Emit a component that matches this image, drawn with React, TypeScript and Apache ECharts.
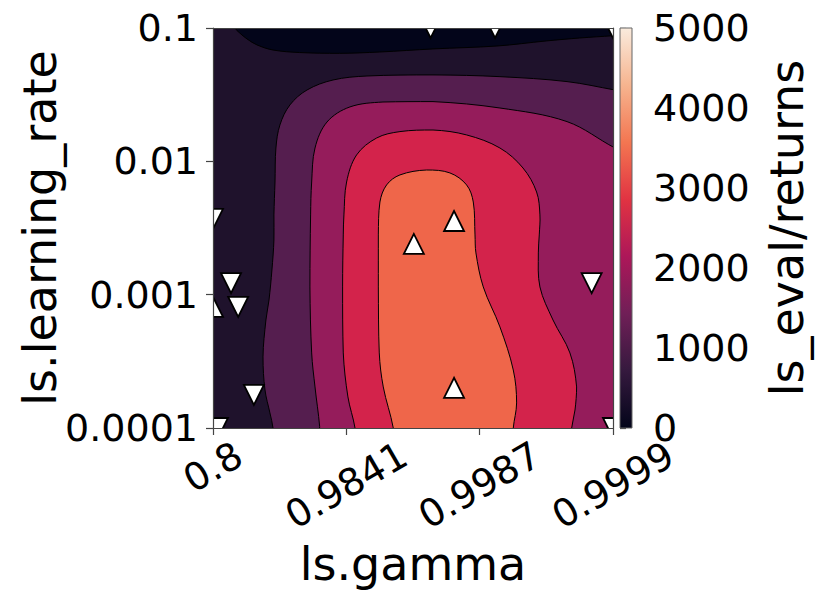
import React, { useEffect, useRef } from 'react';
import * as echarts from 'echarts';

// ---------- data ----------
const gammaTicks = ['0.8', '0.9841', '0.9987', '0.9999'];
const lrTicks = ['0.0001', '0.001', '0.01', '0.1'];
const returnTicks = [0, 1000, 2000, 3000, 4000, 5000];

// trials: [gamma, learning_rate]
const bestTrials: [number, number][] = [
  [0.99795, 0.00357],
  [0.9956, 0.0024],
  [0.99795, 0.0002],
  [0.8, 0.00081],
];
const otherTrials: [number, number][] = [
  [0.858, 0.00122],
  [0.876, 0.00081],
  [0.99985, 0.00122],
  [0.908, 0.000177],
  [0.818, 0.0001],
  [0.8, 0.0037],
  [0.9999, 0.0001],
  [0.9968, 0.1],
  [0.99906, 0.1],
  [0.9999, 0.1],
];

// contour boundaries, in [position along gamma axis (0 = 0.8 ... 3 = 0.9999), log10(learning_rate)]
const bandLowest = [
  [0.14, -0.92], [0.165, -1.0], [0.2, -1.037], [0.255, -1.082], [0.33, -1.127], [0.45, -1.165],
  [0.65, -1.184], [0.95, -1.19], [1.25, -1.18], [1.65, -1.157], [2.13, -1.135], [2.5, -1.097],
  [2.75, -1.075], [3.0, -1.058], [3.1, -1.05], [3.1, -0.92],
];
const bandAbove1000 = [
  [0.45, -4.1], [0.45, -4.0], [0.427, -3.887], [0.39, -3.715], [0.375, -3.467], [0.397, -3.19],
  [0.42, -3.04], [0.442, -2.815], [0.457, -2.59], [0.457, -2.402], [0.465, -2.155], [0.472, -1.9],
  [0.502, -1.727], [0.577, -1.577], [0.705, -1.465], [0.9, -1.39], [1.155, -1.36], [1.65, -1.352],
  [2.152, -1.365], [2.655, -1.402], [3.015, -1.465], [3.1, -1.48], [3.1, -4.1],
];
const bandAbove1500 = [
  [0.8, -4.1], [0.8, -3.99], [0.765, -3.692], [0.74, -3.437], [0.727, -2.942], [0.732, -2.402],
  [0.74, -2.155], [0.765, -1.9], [0.855, -1.705], [1.027, -1.592], [1.275, -1.555], [1.65, -1.552],
  [2.152, -1.6], [2.655, -1.702], [3.015, -1.9], [3.1, -1.93], [3.1, -4.1],
];
const bandAbove2250 = [
  [1.065, -4.1], [1.065, -4.0], [1.012, -3.767], [0.977, -3.437], [0.972, -2.942], [0.977, -2.552],
  [0.982, -2.402], [1.002, -2.155], [1.077, -1.952], [1.227, -1.825], [1.402, -1.777], [1.65, -1.765],
  [1.902, -1.802], [2.152, -1.9], [2.325, -2.05], [2.427, -2.23], [2.452, -2.402], [2.447, -2.552],
  [2.44, -2.687], [2.452, -2.942], [2.55, -3.19], [2.677, -3.437], [2.727, -3.692], [2.715, -3.865],
  [2.69, -4.0], [2.69, -4.1],
];
const bandAbove3000 = [
  [1.35, -4.1], [1.352, -4.0], [1.277, -3.692], [1.247, -3.437], [1.24, -2.942], [1.24, -2.552],
  [1.252, -2.305], [1.302, -2.177], [1.402, -2.102], [1.602, -2.065], [1.777, -2.087], [1.902, -2.177],
  [1.952, -2.305], [1.965, -2.552], [1.972, -2.687], [2.027, -2.942], [2.152, -3.242], [2.252, -3.565],
  [2.277, -3.812], [2.252, -4.0], [2.252, -4.1],
];

const bandPaths = [bandLowest, bandAbove1000, bandAbove1500, bandAbove2250, bandAbove3000];
const bandColors = ['#03051a', '#551e4f', '#951c5b', '#d3234b', '#ef664a'];
const baseBandColor = '#1f122c';

// seaborn "rocket" colormap stops
const rocketStops: [number, string][] = [
  [0, '#03051a'], [0.143, '#35193e'], [0.286, '#701f57'], [0.429, '#ad1759'],
  [0.571, '#e13342'], [0.714, '#f37651'], [0.857, '#f6b48f'], [1, '#faebdd'],
];

// ---------- helpers ----------
const FONT = '"DejaVu Sans", sans-serif';
const TICK_FS = 38;
const NAME_FS = 46;
const gammaPos = (g: number) =>
  (-Math.log10(1 - g) - Math.log10(5)) / ((4 - Math.log10(5)) / 3);

export default function App() {
  const ref = useRef<HTMLDivElement>(null);
  useEffect(() => {
    document.body.style.margin = '0';
    const chart = echarts.init(ref.current!, null, { renderer: 'svg' });

    const ctx = document.createElement('canvas').getContext('2d')!;
    ctx.font = `${TICK_FS}px "DejaVu Sans"`;
    const rich: Record<string, any> = {};
    gammaTicks.forEach((s, i) => {
      const dy = 0.25 * ctx.measureText(s).width;
      rich['g' + i] = {
        fontSize: TICK_FS,
        fontFamily: FONT,
        color: '#000',
        padding: [1.732 * dy, dy, 0, 0],
      };
    });

    const trialData = [
      ...bestTrials.map(([g, lr]) => [gammaPos(g), Math.log10(lr), 1]),
      ...otherTrials.map(([g, lr]) => [gammaPos(g), Math.log10(lr), 0]),
    ];

    const spine = { color: '#444', width: 1.2 };

    const option: any = {
      animation: false,
      backgroundColor: '#fff',
      grid: [
        { left: 213, top: 28, width: 400, height: 400, show: true, backgroundColor: baseBandColor, borderWidth: 0 },
        { left: 620, top: 28, width: 12, height: 400, show: false },
      ],
      xAxis: [
        {
          gridIndex: 0, type: 'value', min: 0, max: 3, interval: 1, z: 5,
          axisLine: { show: true, onZero: false, lineStyle: spine },
          axisTick: { show: true, length: 7, lineStyle: spine },
          splitLine: { show: false },
          axisLabel: {
            rotate: 30, align: 'center', verticalAlign: 'middle', margin: 24,
            showMinLabel: true, showMaxLabel: true, hideOverlap: false,
            fontSize: TICK_FS, fontFamily: FONT, color: '#000',
            formatter: (v: number) => {
              const i = Math.round(v);
              return `{g${i}|${gammaTicks[i]}}`;
            },
            rich,
          },
          name: 'ls.gamma', nameLocation: 'middle', nameGap: 113, nameMoveOverlap: false,
          nameTextStyle: { fontSize: NAME_FS, fontFamily: FONT, color: '#000' },
        },
        { gridIndex: 1, type: 'value', min: 0, max: 1, show: false },
        {
          gridIndex: 0, type: 'value', min: 0, max: 3, position: 'top', z: 5,
          axisLine: { show: true, onZero: false, lineStyle: spine },
          axisTick: { show: false }, axisLabel: { show: false }, splitLine: { show: false },
        },
      ],
      yAxis: [
        {
          gridIndex: 0, type: 'value', min: -4, max: -1, interval: 1, z: 5,
          axisLine: { show: true, onZero: false, lineStyle: spine },
          axisTick: { show: true, length: 7, lineStyle: spine },
          splitLine: { show: false },
          axisLabel: {
            margin: 15, fontSize: TICK_FS, fontFamily: FONT, color: '#000',
            showMinLabel: true, showMaxLabel: true,
            formatter: (v: number) => lrTicks[Math.round(v + 4)],
          },
          name: 'ls.learning_rate', nameLocation: 'middle', nameGap: 150, nameRotate: 90, nameMoveOverlap: false,
          nameTextStyle: { fontSize: NAME_FS, fontFamily: FONT, color: '#000' },
        },
        {
          gridIndex: 1, type: 'value', position: 'right',
          min: returnTicks[0], max: returnTicks[returnTicks.length - 1], interval: 1000,
          axisLine: { show: false },
          axisTick: { show: true, length: 6, lineStyle: spine },
          splitLine: { show: false },
          axisLabel: {
            margin: 21, fontSize: TICK_FS, fontFamily: FONT, color: '#000',
            showMinLabel: true, showMaxLabel: true,
            formatter: (v: number) => String(v),
          },
          name: 'ls_eval/returns', nameLocation: 'middle', nameGap: 132, nameRotate: 90, nameMoveOverlap: false,
          nameTextStyle: { fontSize: NAME_FS, fontFamily: FONT, color: '#000' },
        },
        {
          gridIndex: 0, type: 'value', min: -4, max: -1, position: 'right', z: 5,
          axisLine: { show: true, onZero: false, lineStyle: spine },
          axisTick: { show: false }, axisLabel: { show: false }, splitLine: { show: false },
        },
      ],
      series: [
        {
          type: 'custom', xAxisIndex: 0, yAxisIndex: 0, clip: true, silent: true, z: 2,
          data: bandPaths.map((_, i) => [i]),
          renderItem: (params: any, api: any) => {
            const i = params.dataIndex;
            const pts = bandPaths[i].map((p) => api.coord(p));
            const xs = pts.map((p: number[]) => p[0]);
            const ys = pts.map((p: number[]) => p[1]);
            const bounds = [
              [Math.min(...xs), Math.min(...ys)],
              [Math.max(...xs), Math.max(...ys)],
            ];
            return {
              type: 'polygon',
              shape: { points: pts, smooth: 0.35, smoothConstraint: bounds },
              style: { fill: bandColors[i], stroke: '#000', lineWidth: 1 },
            };
          },
        },
        {
          type: 'custom', xAxisIndex: 0, yAxisIndex: 0, clip: true, silent: true, z: 3,
          data: trialData,
          renderItem: (params: any, api: any) => {
            const c = api.coord([api.value(0), api.value(1)]);
            const up = api.value(2) === 1;
            const r = 10;
            const pts = up
              ? [[c[0], c[1] - r], [c[0] - r, c[1] + r], [c[0] + r, c[1] + r]]
              : [[c[0], c[1] + r], [c[0] - r, c[1] - r], [c[0] + r, c[1] - r]];
            return {
              type: 'polygon',
              shape: { points: pts },
              style: { fill: '#fff', stroke: '#000', lineWidth: 1.8, lineJoin: 'miter' },
            };
          },
        },
        {
          type: 'custom', xAxisIndex: 1, yAxisIndex: 1, silent: true,
          data: [[0, 0]],
          renderItem: (params: any, api: any) => {
            const a = api.coord([0, returnTicks[0]]);
            const b = api.coord([1, returnTicks[returnTicks.length - 1]]);
            return {
              type: 'rect',
              shape: { x: a[0], y: b[1], width: b[0] - a[0], height: a[1] - b[1] },
              style: {
                fill: new echarts.graphic.LinearGradient(0, 1, 0, 0,
                  rocketStops.map(([o, c]) => ({ offset: o, color: c }))),
                stroke: '#666', lineWidth: 1,
              },
            };
          },
        },
      ],
    };
    chart.setOption(option);
    return () => chart.dispose();
  }, []);
  return <div ref={ref} style={{ width: 831, height: 607 }} />;
}
